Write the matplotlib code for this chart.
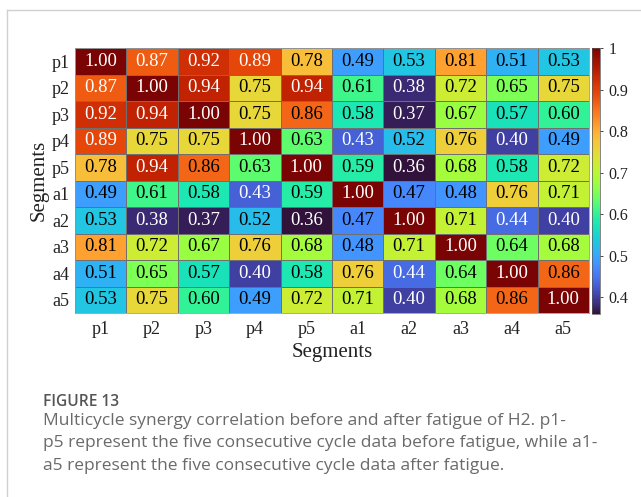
import numpy as np
import matplotlib
matplotlib.use("Agg")
import matplotlib.pyplot as plt
from matplotlib.lines import Line2D

labels = ["p1", "p2", "p3", "p4", "p5", "a1", "a2", "a3", "a4", "a5"]
row_p1 = [1.00, 0.87, 0.92, 0.89, 0.78, 0.49, 0.53, 0.81, 0.51, 0.53]
row_p2 = [0.87, 1.00, 0.94, 0.75, 0.94, 0.61, 0.38, 0.72, 0.65, 0.75]
row_p3 = [0.92, 0.94, 1.00, 0.75, 0.86, 0.58, 0.37, 0.67, 0.57, 0.60]
row_p4 = [0.89, 0.75, 0.75, 1.00, 0.63, 0.43, 0.52, 0.76, 0.40, 0.49]
row_p5 = [0.78, 0.94, 0.86, 0.63, 1.00, 0.59, 0.36, 0.68, 0.58, 0.72]
row_a1 = [0.49, 0.61, 0.58, 0.43, 0.59, 1.00, 0.47, 0.48, 0.76, 0.71]
row_a2 = [0.53, 0.38, 0.37, 0.52, 0.36, 0.47, 1.00, 0.71, 0.44, 0.40]
row_a3 = [0.81, 0.72, 0.67, 0.76, 0.68, 0.48, 0.71, 1.00, 0.64, 0.68]
row_a4 = [0.51, 0.65, 0.57, 0.40, 0.58, 0.76, 0.44, 0.64, 1.00, 0.86]
row_a5 = [0.53, 0.75, 0.60, 0.49, 0.72, 0.71, 0.40, 0.68, 0.86, 1.00]
cbar_ticks = [0.4, 0.5, 0.6, 0.7, 0.8, 0.9, 1.0]
cbar_ticklabels = ["0.4", "0.5", "0.6", "0.7", "0.8", "0.9", "1"]

M = np.array([row_p1, row_p2, row_p3, row_p4, row_p5,
              row_a1, row_a2, row_a3, row_a4, row_a5])

W, H = 641, 497
fig = plt.figure(figsize=(W / 100, H / 100), dpi=100)
serif = ["Liberation Serif", "DejaVu Serif"]

def fx(px):
    return px / W

def fy(py):
    return 1 - py / H

ax = fig.add_axes([fx(75), fy(313), fx(589) - fx(75), fy(48) - fy(313)])
vmin, vmax = 0.36, 1.0
mesh = ax.pcolormesh(M, cmap="turbo", vmin=vmin, vmax=vmax,
                     edgecolor="#6f6f6f", linewidth=0.4)
ax.set_xlim(0, 10)
ax.set_ylim(10, 0)
for i in range(10):
    for j in range(10):
        v = M[i, j]
        col = "white" if (v > 0.865 or v < 0.45) else "black"
        ax.text(j + 0.5, i + 0.5, f"{v:.2f}", ha="center", va="center",
                fontsize=13.5, color=col, family=serif)
ax.set_xticks(np.arange(10) + 0.5)
ax.set_yticks(np.arange(10) + 0.5)
ax.set_xticklabels(labels, family=serif, fontsize=13, color="#222222")
ax.set_yticklabels(labels, family=serif, fontsize=13, color="#222222")
ax.tick_params(length=0, pad=6)
ax.tick_params(axis="y", pad=4)
for s in ax.spines.values():
    s.set_color("#9a9a9a")
    s.set_linewidth(0.6)
ax.set_xlabel("Segments", family=serif, fontsize=15, color="#222222")
ax.xaxis.set_label_coords(0.5, -(352 - 313) / (313 - 48), transform=ax.transAxes)
ax.xaxis.label.set_va("center")
ax.set_ylabel("Segments", family=serif, fontsize=15, color="#222222")
ax.yaxis.set_label_coords(-(75 - 39) / (589 - 75), 0.5, transform=ax.transAxes)
ax.yaxis.label.set_va("center")

cax = fig.add_axes([fx(592), fy(314), fx(600) - fx(592), fy(48) - fy(314)])
cb = fig.colorbar(mesh, cax=cax)
cb.set_ticks(cbar_ticks)
cb.set_ticklabels(cbar_ticklabels)
cax.tick_params(labelsize=11.5, length=2, width=0.5, pad=4)
for t in cax.get_yticklabels():
    t.set_family(serif)
    t.set_color("#222222")
cb.outline.set_linewidth(0.5)
cb.outline.set_edgecolor("#555555")

# frame lines
fig.add_artist(Line2D([fx(7), 1], [fy(10), fy(10)], color="#d0d0d0", lw=1))
fig.add_artist(Line2D([fx(7), fx(7)], [fy(10), 0], color="#d0d0d0", lw=1))

sans = ["Open Sans", "DejaVu Sans"]
fig.text(fx(43), fy(402), "FIGURE 13", family=sans, fontsize=11.2,
         color="#555555", fontweight="semibold", va="center")
caption = ["Multicycle synergy correlation before and after fatigue of H2. p1-",
           "p5 represent the five consecutive cycle data before fatigue, while a1-",
           "a5 represent the five consecutive cycle data after fatigue."]
for k, line in enumerate(caption):
    fig.text(fx(43), fy(421 + 22.3 * k), line, family=sans, fontsize=12.5,
             color="#6a6a6a", va="center")

fig.savefig("out.png", dpi=100)
